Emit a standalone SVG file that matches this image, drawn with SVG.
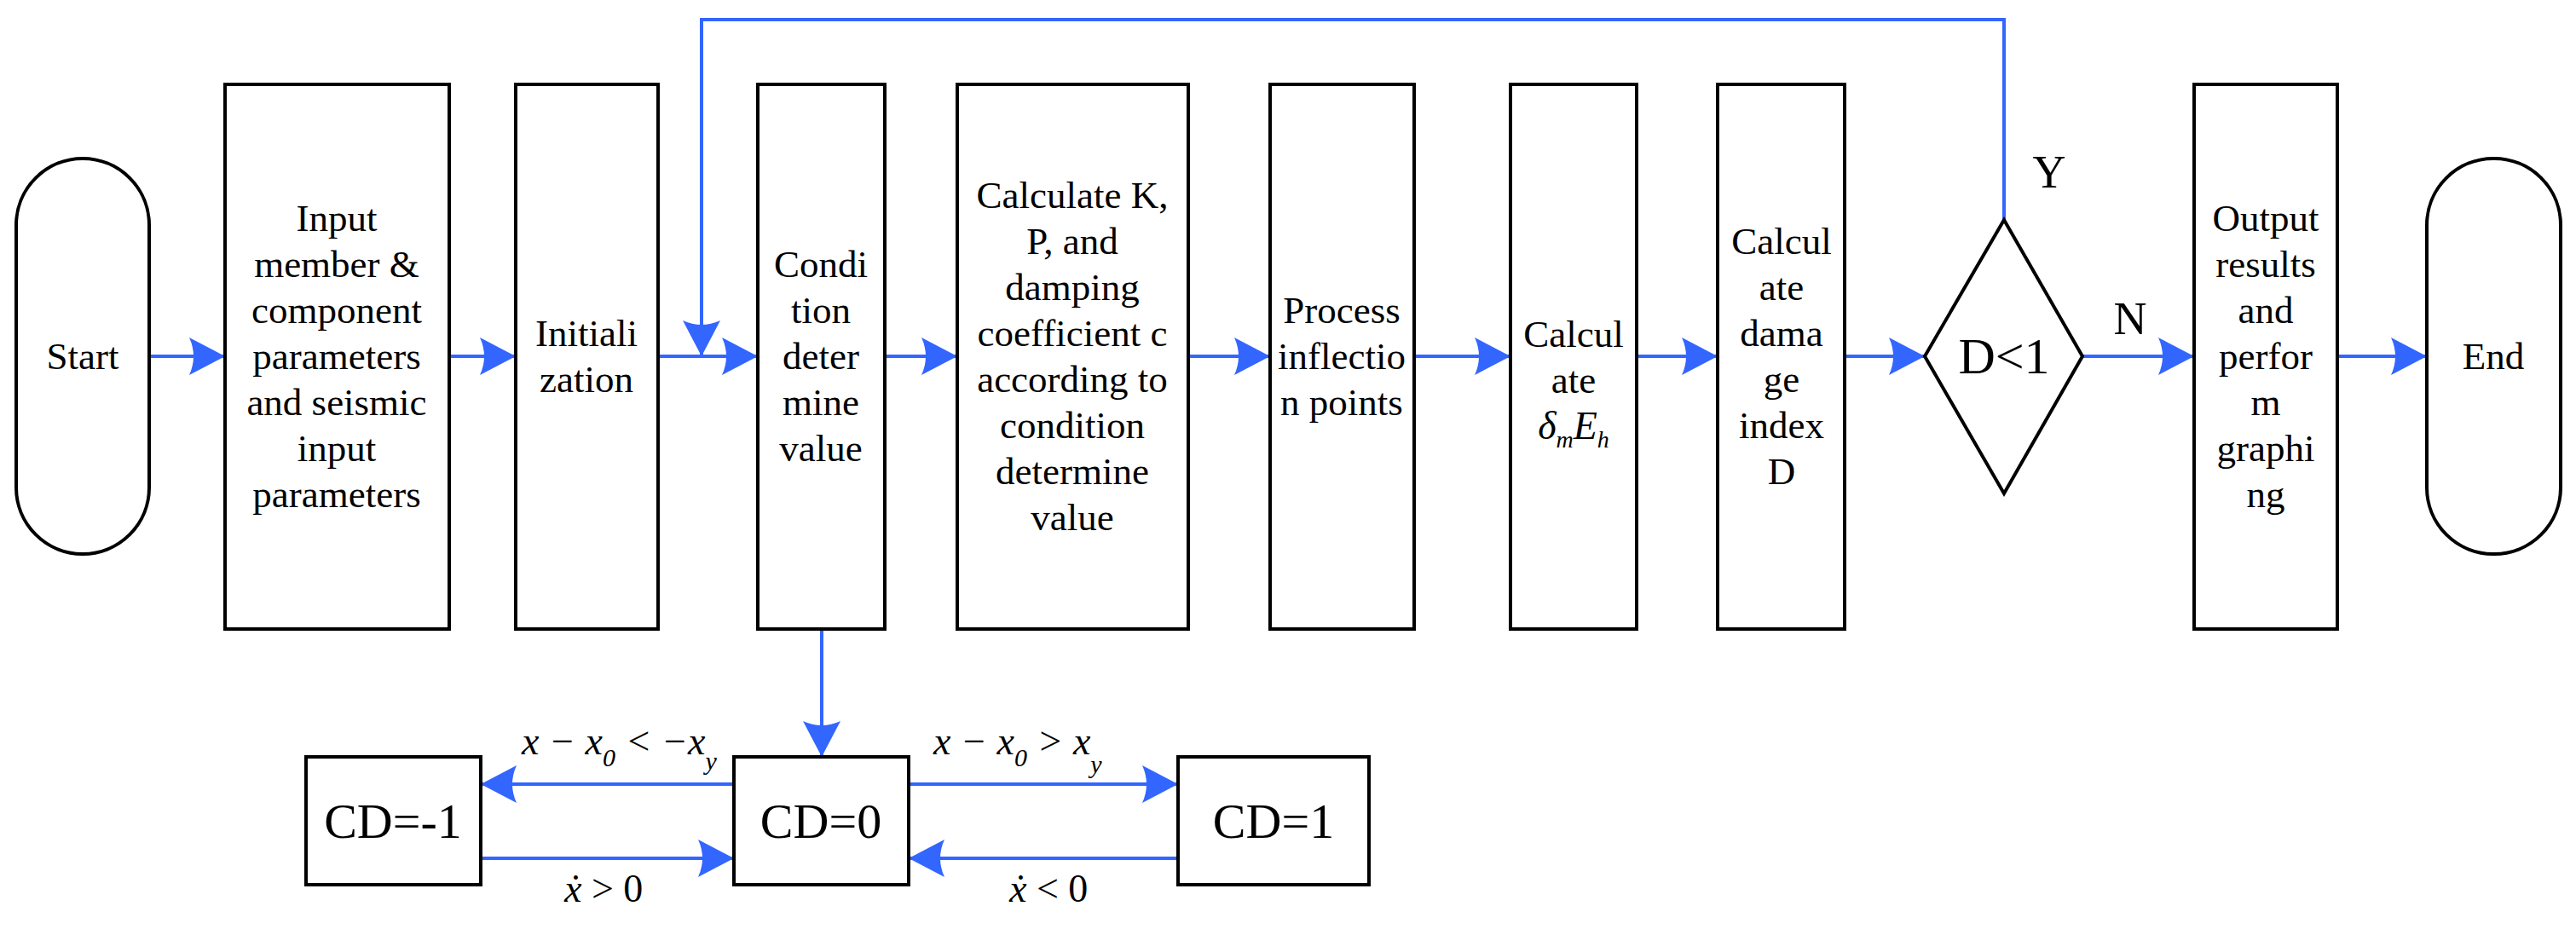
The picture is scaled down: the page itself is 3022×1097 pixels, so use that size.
<svg xmlns="http://www.w3.org/2000/svg" width="3022" height="1097" viewBox="0 0 3022 1097">
<defs>
<style>
.n{fill:#fff;stroke:#000;stroke-width:4}
.t{font-family:"Liberation Serif","Times New Roman",serif;font-size:45px;text-anchor:middle;fill:#000}
.m{font-family:"Liberation Serif","Times New Roman",serif;font-size:46px;font-style:italic;fill:#000}
.c{fill:none;stroke:#3366FF;stroke-width:4}
</style>
<marker id="a" markerUnits="userSpaceOnUse" markerWidth="44" markerHeight="44" viewBox="0 0 44 44" refX="42" refY="22" orient="auto">
<path d="M0,0 L42,22 L0,44 Q10,22 0,0 Z" fill="#3366FF"/>
</marker>
</defs>
<rect width="3022" height="1097" fill="#fff"/>
<g id="connectors">
<line class="c" x1="175" y1="418" x2="264" y2="418" marker-end="url(#a)"/>
<line class="c" x1="527" y1="418" x2="605" y2="418" marker-end="url(#a)"/>
<line class="c" x1="772" y1="418" x2="889" y2="418" marker-end="url(#a)"/>
<line class="c" x1="1038" y1="418" x2="1123" y2="418" marker-end="url(#a)"/>
<line class="c" x1="1394" y1="418" x2="1490" y2="418" marker-end="url(#a)"/>
<line class="c" x1="1659" y1="418" x2="1772" y2="418" marker-end="url(#a)"/>
<line class="c" x1="1920" y1="418" x2="2015" y2="418" marker-end="url(#a)"/>
<line class="c" x1="2164" y1="418" x2="2258" y2="418" marker-end="url(#a)"/>
<line class="c" x1="2443" y1="418" x2="2574" y2="418" marker-end="url(#a)"/>
<line class="c" x1="2742" y1="418" x2="2847" y2="418" marker-end="url(#a)"/>
<polyline class="c" points="2351,258 2351,23 823,23 823,418" marker-end="url(#a)"/>
<line class="c" x1="964" y1="738" x2="964" y2="888" marker-end="url(#a)"/>
<line class="c" x1="861" y1="920" x2="564" y2="920" marker-end="url(#a)"/>
<line class="c" x1="564" y1="1007" x2="861" y2="1007" marker-end="url(#a)"/>
<line class="c" x1="1066" y1="920" x2="1382" y2="920" marker-end="url(#a)"/>
<line class="c" x1="1382" y1="1007" x2="1066" y2="1007" marker-end="url(#a)"/>
<text class="t" x="2404" y="220" style="font-size:54px">Y</text>
<text class="t" x="2499" y="392" style="font-size:54px">N</text>
<text class="m" x="612" y="885">x − x<tspan font-size="30" dy="14">0</tspan><tspan dy="-14"> &lt; −x</tspan><tspan font-size="30" dy="18">y</tspan></text>
<text class="m" x="1095" y="885">x − x<tspan font-size="30" dy="14">0</tspan><tspan dy="-14"> &gt; x</tspan><tspan font-size="30" dy="22">y</tspan></text>
<text class="m" x="662" y="1058">ẋ <tspan font-style="normal">&gt; 0</tspan></text>
<text class="m" x="1184" y="1058">ẋ <tspan font-style="normal">&lt; 0</tspan></text>
</g>
<g id="start"><rect class="n" x="19" y="186" width="156" height="464" rx="78" ry="78"/><text class="t" x="97" y="433">Start</text></g>
<g id="input"><rect class="n" x="264" y="99" width="263" height="639"/>
<text class="t" x="395"><tspan x="395" y="271">Input</tspan><tspan x="395" y="325">member &amp;</tspan><tspan x="395" y="379">component</tspan><tspan x="395" y="433">parameters</tspan><tspan x="395" y="487">and seismic</tspan><tspan x="395" y="541">input</tspan><tspan x="395" y="595">parameters</tspan></text></g>
<g id="init"><rect class="n" x="605" y="99" width="167" height="639"/>
<text class="t"><tspan x="688" y="406">Initiali</tspan><tspan x="688" y="460">zation</tspan></text></g>
<g id="cond"><rect class="n" x="889" y="99" width="149" height="639"/>
<text class="t"><tspan x="963" y="325">Condi</tspan><tspan x="963" y="379">tion</tspan><tspan x="963" y="433">deter</tspan><tspan x="963" y="487">mine</tspan><tspan x="963" y="541">value</tspan></text></g>
<g id="calck"><rect class="n" x="1123" y="99" width="271" height="639"/>
<text class="t"><tspan x="1258" y="244">Calculate K,</tspan><tspan x="1258" y="298">P, and</tspan><tspan x="1258" y="352">damping</tspan><tspan x="1258" y="406">coefficient c</tspan><tspan x="1258" y="460">according to</tspan><tspan x="1258" y="514">condition</tspan><tspan x="1258" y="568">determine</tspan><tspan x="1258" y="622">value</tspan></text></g>
<g id="process"><rect class="n" x="1490" y="99" width="169" height="639"/>
<text class="t"><tspan x="1574" y="379">Process</tspan><tspan x="1574" y="433">inflectio</tspan><tspan x="1574" y="487">n points</tspan></text></g>
<g id="calcde"><rect class="n" x="1772" y="99" width="148" height="639"/>
<text class="t"><tspan x="1846" y="407">Calcul</tspan><tspan x="1846" y="461">ate</tspan></text>
<text class="m" x="1846" y="515" text-anchor="middle">δ<tspan font-size="28" dy="10">m</tspan><tspan dy="-10">E</tspan><tspan font-size="28" dy="10">h</tspan></text></g>
<g id="damage"><rect class="n" x="2015" y="99" width="149" height="639"/>
<text class="t"><tspan x="2090" y="298">Calcul</tspan><tspan x="2090" y="352">ate</tspan><tspan x="2090" y="406">dama</tspan><tspan x="2090" y="460">ge</tspan><tspan x="2090" y="514">index</tspan><tspan x="2090" y="568">D</tspan></text></g>
<g id="decision"><polygon class="n" points="2351,258 2443,418 2351,579 2258,418"/><text class="t" x="2351" y="438" style="font-size:60px">D&lt;1</text></g>
<g id="output"><rect class="n" x="2574" y="99" width="168" height="639"/>
<text class="t"><tspan x="2658" y="271">Output</tspan><tspan x="2658" y="325">results</tspan><tspan x="2658" y="379">and</tspan><tspan x="2658" y="433">perfor</tspan><tspan x="2658" y="487">m</tspan><tspan x="2658" y="541">graphi</tspan><tspan x="2658" y="595">ng</tspan></text></g>
<g id="end"><rect class="n" x="2847" y="186" width="157" height="464" rx="78" ry="78"/><text class="t" x="2925" y="433">End</text></g>
<g id="cdm1"><rect class="n" x="359" y="888" width="205" height="150"/><text class="t" x="461" y="983" style="font-size:58px">CD=-1</text></g>
<g id="cd0"><rect class="n" x="861" y="888" width="205" height="150"/><text class="t" x="963" y="983" style="font-size:58px">CD=0</text></g>
<g id="cd1"><rect class="n" x="1382" y="888" width="224" height="150"/><text class="t" x="1494" y="983" style="font-size:58px">CD=1</text></g>
</svg>
